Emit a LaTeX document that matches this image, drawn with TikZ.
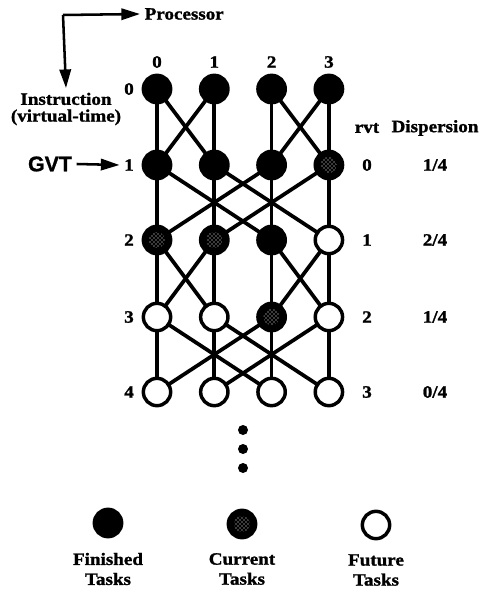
\documentclass[tikz,border=0pt]{standalone}
\usepackage{fontspec}
\setmainfont{Liberation Serif}[FakeStretch=1.1,BoldFeatures={FakeBold=1.3}]
\newfontfamily\gvtfont{Liberation Sans}[BoldFeatures={FakeBold=1}]
\usetikzlibrary{arrows.meta,patterns,backgrounds}

\begin{document}
\begin{tikzpicture}[x=0.75pt,y=-0.75pt,
   task/.style={circle,draw,line width=2.6pt,minimum size=20.5pt,inner sep=0pt},
   done/.style={task,fill=black},
   curr/.style={task,fill=black,path picture={\fill[pattern=crosshatch dots,pattern color=white] (path picture bounding box.center) circle (6pt);}},
   todo/.style={task,fill=white},
   lbl/.style={font=\fontsize{13}{15}\selectfont\bfseries},
   link/.style={line width=2.8pt},
   axis/.style={line width=1.9pt,-{Triangle[length=14pt,width=8.5pt]}}]
\useasboundingbox (0,0) rectangle (479,592);
\foreach \r/\y/\states in {0/89/{done,done,done,done},1/165/{done,done,done,curr},
   2/240/{curr,curr,done,todo},3/317/{todo,todo,curr,todo},4/392/{todo,todo,todo,todo}} {
   \foreach \s [count=\c from 0] in \states
      \node[\s] (t\r\c) at (157+57.3*\c,\y) {};
   \node[lbl] (i\r) at (129,\y) {\r};
}
\begin{scope}[on background layer]
\foreach \r/\n in {0/1,1/2,2/3,3/4}
   \foreach \c in {0,...,3} \draw[link] (t\r\c.center) -- (t\n\c.center);
\foreach \r/\n in {0/1,2/3}
   \foreach \a/\b in {0/1,1/0,2/3,3/2} \draw[link] (t\r\a.center) -- (t\n\b.center);
\foreach \r/\n in {1/2,3/4}
   \foreach \a/\b in {0/2,2/0,1/3,3/1} \draw[link] (t\r\a.center) -- (t\n\b.center);
\end{scope}
\foreach \c in {0,...,3}
   \node[lbl] (p\c) at (157+57.3*\c,62) {\c};
\coordinate (corner) at (63,15);
\node[lbl,anchor=west] (proc) at (140,14) {Processor};
\node[lbl,align=center] (instr) at (66,109) {Instruction\\[-2.5pt](virtual-time)};
\draw[axis] (corner) -- (proc.west);
\draw[axis] (corner) -- (instr.north);
\node[font=\gvtfont\bfseries\fontsize{16}{18}\selectfont] (gvt) at (50,164) {GVT};
\draw[axis] (gvt.east) -- (i1.west);
\node[lbl] (rvt) at (367,128) {rvt};
\node[lbl] (disp) at (435,128) {Dispersion};
\foreach \r/\v/\d in {1/0/1,2/1/2,3/2/1,4/3/0} {
   \node[lbl] (v\r) at (t\r3 -| rvt) {\v};
   \node[lbl] (d\r) at (t\r3 -| disp) {\d/4};
}
\foreach \i/\y in {1/430,2/449,3/468}
   \node[circle,fill,inner sep=0pt,minimum size=7.5pt] (dot\i) at (243,\y) {};
\node[done] (lf) at (108,523) {};
\node[curr] (lc) at (242,524) {};
\node[todo] (lu) at (376,525) {};
\node[lbl,align=center] (lft) at (108,569) {Finished\\[0pt]Tasks};
\node[lbl,align=center] (lct) at (242,569) {Current\\[0pt]Tasks};
\node[lbl,align=center] (lut) at (376,570) {Future\\[0pt]Tasks};
\end{tikzpicture}
\end{document}
